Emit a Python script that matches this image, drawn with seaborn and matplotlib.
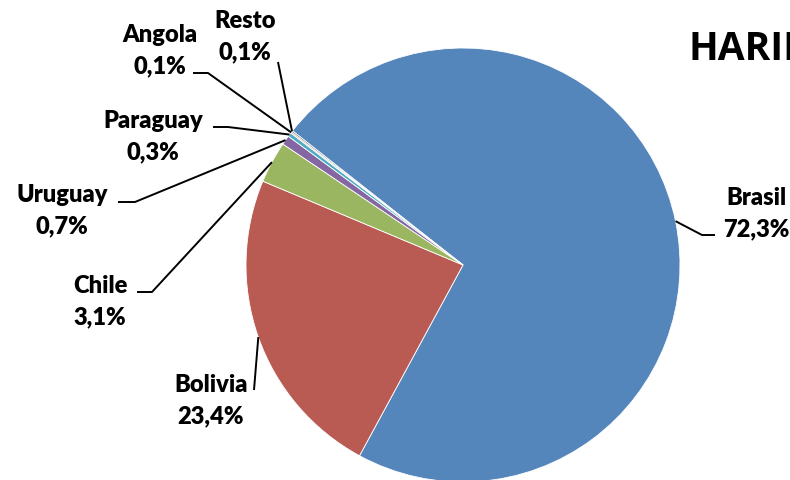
import matplotlib
matplotlib.use("Agg")
import matplotlib.pyplot as plt
import seaborn as sns
import numpy as np

# data
countries = ["Brasil", "Bolivia", "Chile", "Uruguay", "Paraguay", "Angola", "Resto"]
shares = [72.3, 23.4, 3.1, 0.7, 0.3, 0.1, 0.1]
pct_labels = ["72,3%", "23,4%", "3,1%", "0,7%", "0,3%", "0,1%", "0,1%"]
colors = ["#5485BB", "#BA5B53", "#9BB660", "#8466A2", "#4BACC6", "#F79646", "#2C4D75"]

# layout (pixels, origin top-left)
W, H = 790, 480
center_px = (463, 265)
radius = 217
label_x = [756, 211, 100, 62, 153, 160, 245]
label_base = [205, 392, 293, 202, 128, 42, 28]
line_gap = 31
leader_start = [
    [(715, 235), (702, 235)],
    [(254, 390)],
    [(137, 292), (152, 292)],
    [(118, 202), (135, 202)],
    [(213, 127), (228, 127)],
    [(193, 73), (208, 73)],
    [(278, 62)],
]

sns.set_style("white")
plt.rcParams["font.family"] = ["Lato", "DejaVu Sans"]

fig = plt.figure(figsize=(W / 100, H / 100), dpi=100)
ax = fig.add_axes([0, 0, 1, 1])

cx, cy = center_px[0], H - center_px[1]
wedges, _ = ax.pie(shares, colors=colors, startangle=141.8, counterclock=False,
                   center=(cx, cy), radius=radius,
                   wedgeprops=dict(edgecolor="white", linewidth=0.6))

ax.set_xlim(0, W)
ax.set_ylim(0, H)
ax.set_aspect("equal")
ax.axis("off")

for i, w in enumerate(wedges):
    mid = np.deg2rad((w.theta1 + w.theta2) / 2)
    anchor = (cx + radius * np.cos(mid), cy + radius * np.sin(mid))
    pts = [(x, H - y) for x, y in leader_start[i]] + [anchor]
    xs, ys = zip(*pts)
    ax.plot(xs, ys, color="black", lw=1.4, solid_capstyle="butt")
    ax.text(label_x[i], H - label_base[i], countries[i], ha="center", va="baseline",
            fontsize=17, fontweight="heavy", color="black")
    ax.text(label_x[i], H - label_base[i] - line_gap, pct_labels[i], ha="center",
            va="baseline", fontsize=17, fontweight="heavy", color="black")

# title runs off the right edge, as in the original
ax.text(689, H - 60, "HARINA", ha="left", va="baseline", fontsize=28,
        fontweight="bold", family=["Open Sans", "DejaVu Sans"], color="black")

fig.savefig("out.png", dpi=100)
